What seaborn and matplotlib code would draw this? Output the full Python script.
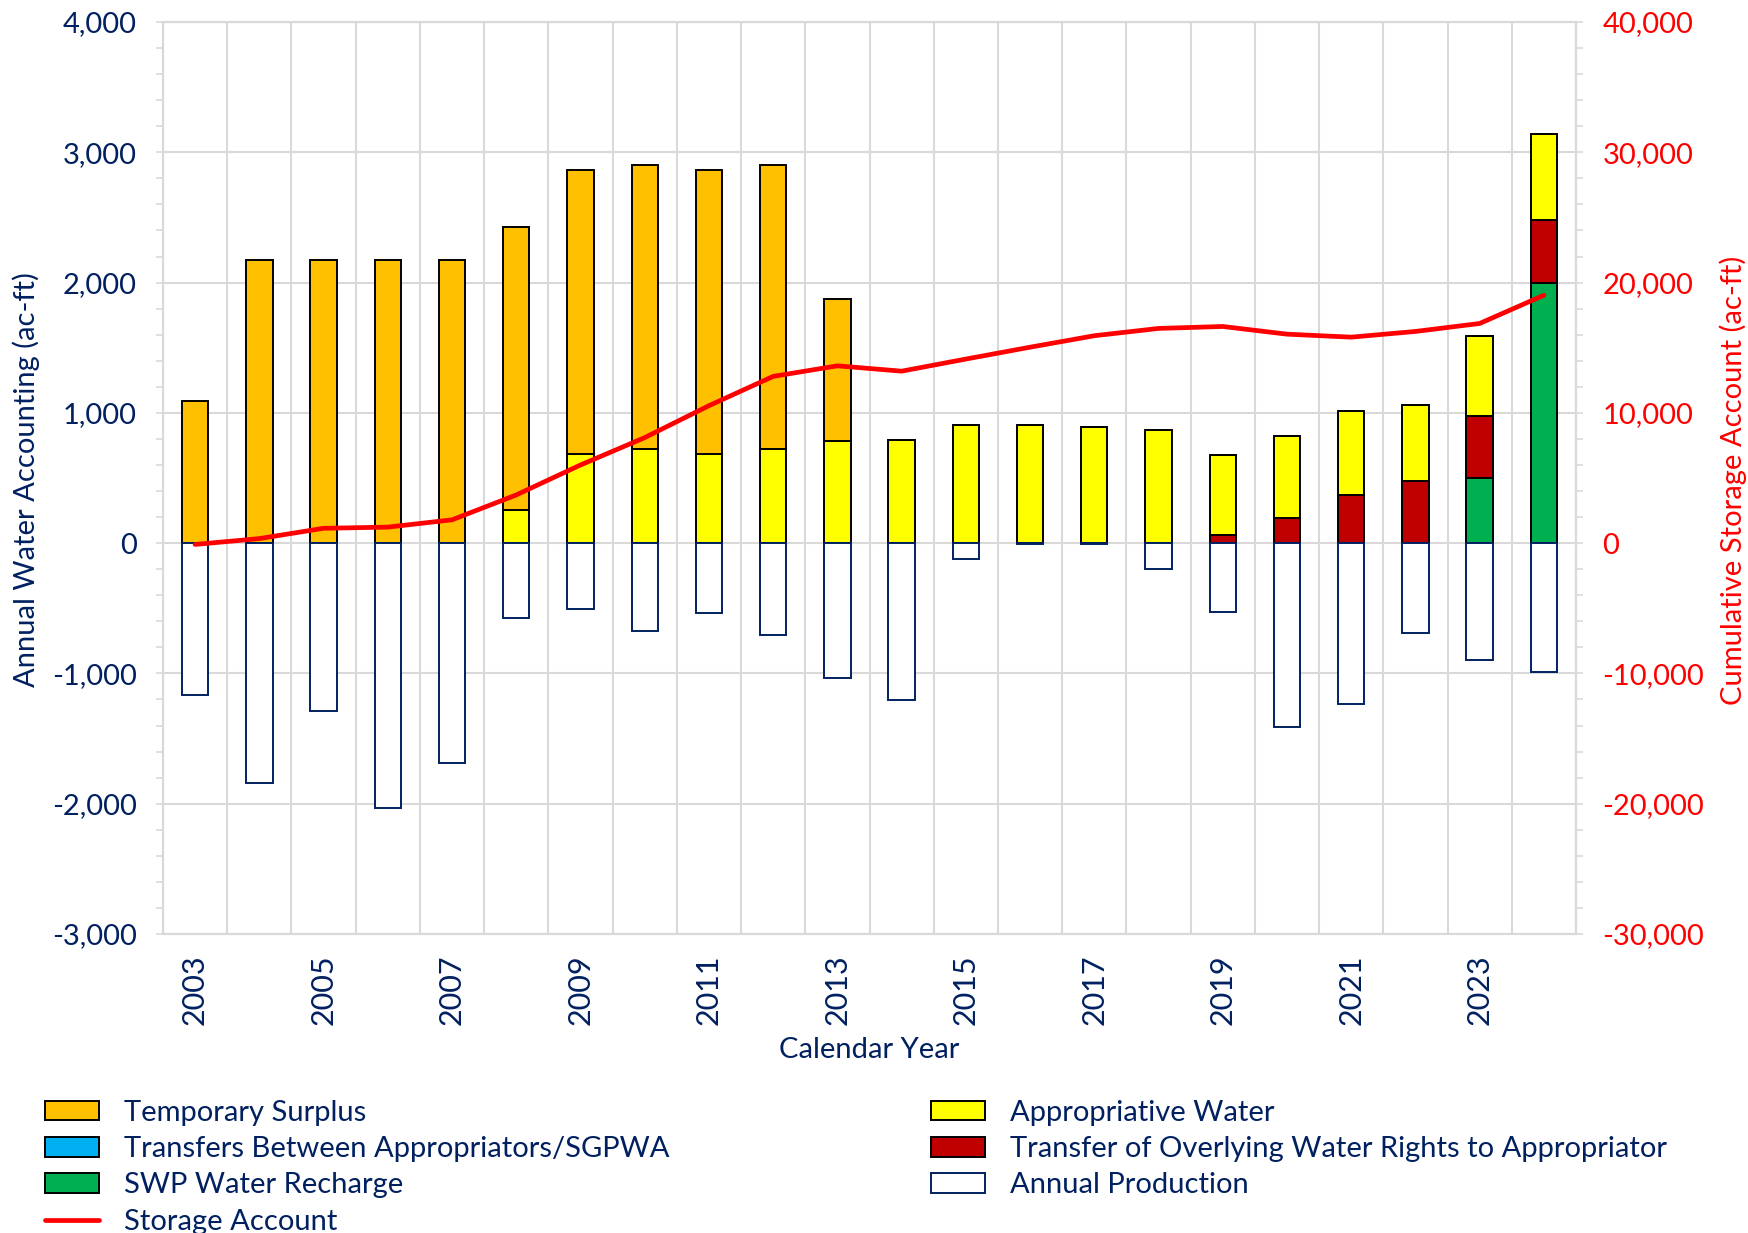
import numpy as np
import pandas as pd
import matplotlib
matplotlib.use('Agg')
import matplotlib.pyplot as plt
import seaborn as sns
from matplotlib.ticker import FuncFormatter, MultipleLocator

# Data (ac-ft)
years = list(range(2003, 2025))
temporary_surplus = [1088, 2175, 2175, 2175, 2175, 2172, 2179, 2178, 2176, 2178, 1089,
                     0, 0, 0, 0, 0, 0, 0, 0, 0, 0, 0]
appropriative_water = [0, 0, 0, 0, 0, 258, 686, 724, 686, 724, 783,
                       789, 909, 909, 894, 865, 610, 631, 647, 583, 610, 662]
transfers_between = [0] * 22
overlying_transfer = [0] * 16 + [64, 193, 367, 478, 478, 478]
swp_recharge = [0] * 20 + [501, 2000]
annual_production = [-1167, -1841, -1285, -2036, -1690, -574, -505, -677, -536, -703, -1036,
                     -1205, -121, -5, -5, -195, -531, -1415, -1236, -690, -897, -990]
storage_account = [-100, 350, 1140, 1230, 1790, 3700, 6000, 8100, 10550, 12800, 13610,
                   13200, 14130, 15040, 15920, 16480, 16630, 16040, 15810, 16250, 16860, 19030]

navy = '#002060'
red = '#FF0000'
grid_c = '#D9D9D9'
fs = 21

sns.set_theme(style='white')
plt.rcParams['font.family'] = ['Lato', 'DejaVu Sans']
plt.rcParams['font.size'] = fs

df = pd.DataFrame({'year': years, 'storage': storage_account})
x = np.arange(len(years))
w = 0.41

fig = plt.figure(figsize=(17.48, 12.33), dpi=100)
ax = fig.add_axes([163 / 1748, 1 - 934 / 1233, 1413 / 1748, 912 / 1233])

# stacked positive bars: green, blue, red, yellow, orange
edge = dict(edgecolor='black', linewidth=1.4, width=w, zorder=3)
bottom = np.zeros(len(years))
h_swp = ax.bar(x, swp_recharge, bottom=bottom, color='#00B050', label='SWP Water Recharge', **edge)
bottom += swp_recharge
h_tr = ax.bar(x, transfers_between, bottom=bottom, color='#00B0F0',
              label='Transfers Between Appropriators/SGPWA', **edge)
bottom += transfers_between
h_ov = ax.bar(x, overlying_transfer, bottom=bottom, color='#C00000',
              label='Transfer of Overlying Water Rights to Appropriator', **edge)
bottom += overlying_transfer
h_ap = ax.bar(x, appropriative_water, bottom=bottom, color='#FFFF00',
              label='Appropriative Water', **edge)
bottom += appropriative_water
h_ts = ax.bar(x, temporary_surplus, bottom=bottom, color='#FFC000',
              label='Temporary Surplus', **edge)
h_pr = ax.bar(x, annual_production, width=w, color='white', edgecolor=navy, linewidth=1.4,
              label='Annual Production', zorder=3)

ax.set_xlim(-0.5, len(years) - 0.5)
ax.set_ylim(-3000, 4000)
ax.yaxis.set_major_locator(MultipleLocator(1000))
ax.yaxis.set_minor_locator(MultipleLocator(200))
ax.yaxis.set_major_formatter(FuncFormatter(lambda v, p: f'{v:,.0f}'))
ax.set_xticks(x)
ax.set_xticklabels([str(y) if i % 2 == 0 else '' for i, y in enumerate(years)],
                   rotation=90, color=navy, fontsize=22, rotation_mode='anchor',
                   ha='right', va='center')
ax.set_xticks(np.arange(-0.5, len(years), 1), minor=True)
ax.set_axisbelow(True)
ax.grid(which='major', axis='y', color=grid_c, linewidth=1.5)
ax.grid(which='minor', axis='x', color=grid_c, linewidth=1.5)
ax.tick_params(axis='x', which='both', length=0, pad=15)
ax.tick_params(axis='y', which='both', direction='out', length=5, color=grid_c,
               width=1.2, labelcolor=navy, labelsize=fs, pad=14, left=True)
for s in ax.spines.values():
    s.set_color(grid_c)
    s.set_linewidth(1.5)

ax2 = ax.twinx()
sns.lineplot(data=df, x=x, y='storage', ax=ax2, color=red, linewidth=3.4,
             label='Storage Account', legend=False, zorder=5)
ax2.set_ylim(-30000, 40000)
ax2.yaxis.set_major_locator(MultipleLocator(10000))
ax2.yaxis.set_minor_locator(MultipleLocator(2000))
ax2.yaxis.set_major_formatter(FuncFormatter(lambda v, p: f'{v:,.0f}'))
ax2.tick_params(axis='y', which='both', direction='out', length=5, color=grid_c,
                width=1.2, labelcolor=red, labelsize=fs, pad=14, right=True)
ax2.set_ylabel('')
ax2.grid(False)
for s in ax2.spines.values():
    s.set_color(grid_c)
    s.set_linewidth(1.5)

fig.text(26 / 1748, 1 - 480 / 1233, 'Annual Water Accounting (ac-ft)', rotation=90,
         ha='center', va='center', color=navy, fontsize=fs)
fig.text(1733 / 1748, 1 - 480 / 1233, 'Cumulative Storage Account (ac-ft)', rotation=90,
         ha='center', va='center', color=red, fontsize=fs)
fig.text((163 + 1413 / 2) / 1748, 1 - 1050 / 1233, 'Calendar Year',
         ha='center', va='center', color=navy, fontsize=fs)

line_handle = ax2.get_lines()[0]
leg_kw = dict(frameon=False, loc='upper left', borderaxespad=0, borderpad=0,
              handlelength=1.85, handleheight=0.65, handletextpad=0.85,
              labelspacing=0.35, labelcolor=navy, fontsize=fs)
fig.legend([h_ts, h_tr, h_swp, line_handle],
           ['Temporary Surplus', 'Transfers Between Appropriators/SGPWA',
            'SWP Water Recharge', 'Storage Account'],
           bbox_to_anchor=(45 / 1748, 1 - 1100 / 1233), **leg_kw)
fig.legend([h_ap, h_ov, h_pr],
           ['Appropriative Water', 'Transfer of Overlying Water Rights to Appropriator',
            'Annual Production'],
           bbox_to_anchor=(931 / 1748, 1 - 1100 / 1233), **leg_kw)

fig.savefig('out.png', dpi=100)
